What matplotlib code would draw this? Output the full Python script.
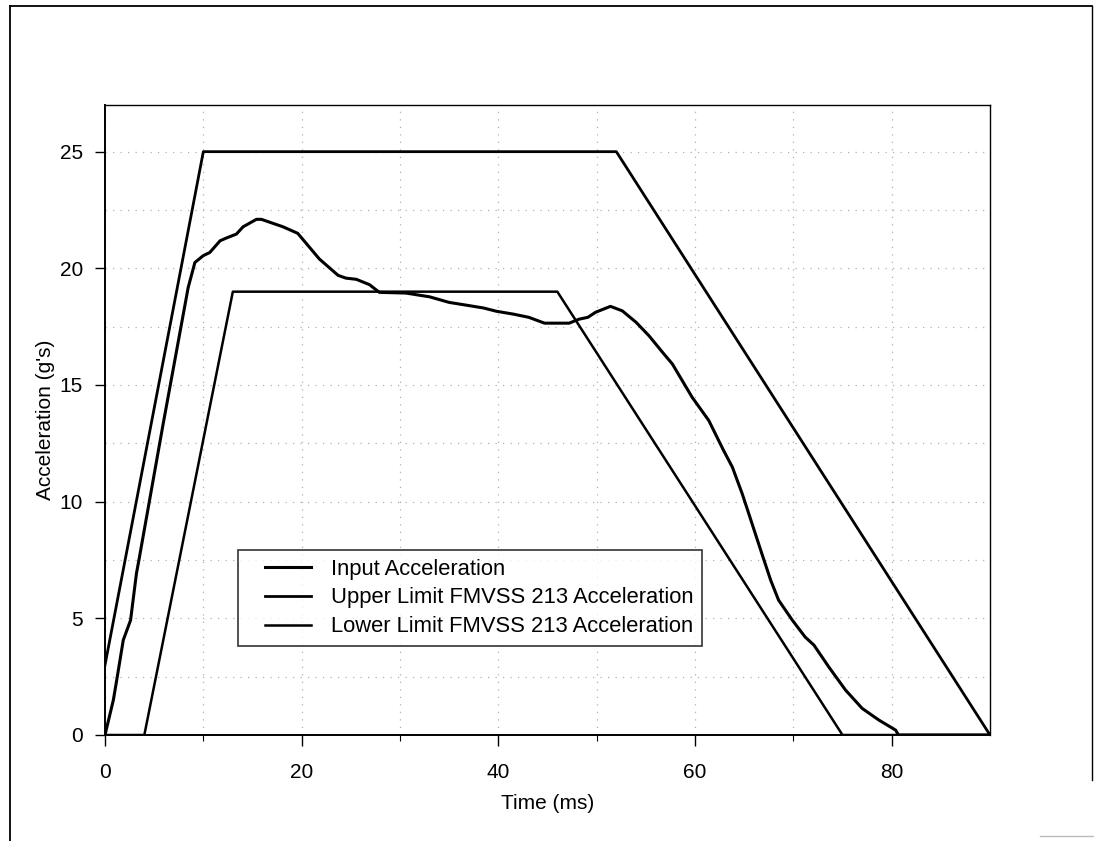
import matplotlib
matplotlib.use("Agg")
import matplotlib.pyplot as plt
from matplotlib.lines import Line2D
from matplotlib.legend_handler import HandlerLine2D
from matplotlib.ticker import MultipleLocator, FixedLocator

plt.rcParams['font.family'] = ['Liberation Sans', 'DejaVu Sans']

# Input acceleration (time ms, g)
input_t = [0, 0.85, 1.19, 1.86, 2.6, 3.2, 3.45, 5.9, 8.46, 9.14, 9.98, 10.66, 11.7,
           12.35, 13.37, 14.04, 15.4, 15.9, 18.1, 19.6, 21.8, 23.7, 24.5, 25.55, 26.9,
           27.9, 30.6, 33.0, 35.0, 37.06, 38.5, 39.8, 41.5, 43.1, 44.7, 47.2, 48.2, 49.1,
           49.9, 51.4, 52.6, 54.0, 55.3, 56.7, 57.7, 59.7, 61.4, 62.9, 63.8, 64.8, 65.8,
           66.8, 67.7, 68.5, 69.9, 71.2, 72.1, 73.6, 75.3, 77.0, 78.7, 80.4, 80.7, 90]
input_a = [0, 1.5, 2.35, 4.07, 4.92, 6.93, 7.5, 13.3, 19.18, 20.25, 20.54, 20.68, 21.18,
           21.3, 21.47, 21.78, 22.1, 22.1, 21.78, 21.5, 20.4, 19.7, 19.58, 19.53, 19.3,
           18.97, 18.94, 18.78, 18.54, 18.4, 18.3, 18.16, 18.04, 17.9, 17.65, 17.65, 17.82, 17.9,
           18.12, 18.37, 18.18, 17.69, 17.12, 16.4, 15.9, 14.48, 13.48, 12.2, 11.48, 10.34, 9.06,
           7.77, 6.63, 5.78, 4.92, 4.2, 3.85, 2.92, 1.93, 1.14, 0.64, 0.21, 0, 0]

# FMVSS 213 corridor
upper_t = [0, 10, 52, 90]
upper_a = [3, 25, 25, 0]
lower_t = [0, 4, 13, 46, 75, 90]
lower_a = [0, 0, 19, 19, 0, 0]

labels = ["Input Acceleration",
          "Upper Limit FMVSS 213 Acceleration",
          "Lower Limit FMVSS 213 Acceleration"]
x_ticks = [0, 20, 40, 60, 80]
y_ticks = [0, 5, 10, 15, 20, 25]

W, H = 1094, 841
fig = plt.figure(figsize=(W / 100, H / 100), dpi=100)
fig.patch.set_facecolor('white')

# outer frame (scanned page border)
fig.add_artist(Line2D([10 / W, 10 / W], [0, 1 - 6 / H], transform=fig.transFigure,
                      color='black', lw=1.3))
fig.add_artist(Line2D([10 / W, 1092 / W], [1 - 6 / H, 1 - 6 / H], transform=fig.transFigure,
                      color='black', lw=1.3))
fig.add_artist(Line2D([1092 / W, 1092 / W], [1 - 6 / H, 1 - 780 / H], transform=fig.transFigure,
                      color='black', lw=1.0))
fig.add_artist(Line2D([1040 / W, 1094 / W], [1 - 836 / H, 1 - 836 / H], transform=fig.transFigure,
                      color='#bbbbbb', lw=1.0))

left, right, bottom, top = 105 / W, 990 / W, 1 - 735 / H, 1 - 105 / H
ax = fig.add_axes([left, bottom, right - left, top - bottom])

ax.plot(input_t, input_a, color='black', lw=2.2, label=labels[0], solid_joinstyle='round')
ax.plot(upper_t, upper_a, color='black', lw=2.0, label=labels[1])
ax.plot(lower_t, lower_a, color='black', lw=1.8, label=labels[2])

ax.set_xlim(0, 90)
ax.set_ylim(0, 27)
ax.xaxis.set_major_locator(FixedLocator(x_ticks))
ax.xaxis.set_minor_locator(FixedLocator([10, 30, 50, 70]))
ax.yaxis.set_major_locator(FixedLocator(y_ticks))
ax.yaxis.set_minor_locator(MultipleLocator(2.5))

ax.grid(True, which='both', color='#b0b0b0', linestyle=(0, (1, 5)), linewidth=0.9)
ax.tick_params(axis='x', which='major', length=8, width=1.0, pad=12, labelsize=15, direction='out')
ax.tick_params(axis='x', which='minor', length=4, width=0.8, direction='out')
ax.tick_params(axis='y', which='major', length=7, width=1.0, pad=9, labelsize=15, direction='out')
ax.tick_params(axis='y', which='minor', length=0)
for s in ax.spines.values():
    s.set_color('black')
    s.set_linewidth(1.0)
ax.spines['left'].set_linewidth(1.4)
ax.spines['bottom'].set_linewidth(1.4)

ax.set_xlabel("Time (ms)", fontsize=15, labelpad=9)
ax.set_ylabel("Acceleration (g's)", fontsize=15, labelpad=3)

leg = ax.legend(loc='center', bbox_to_anchor=((470 - 105) / 885, (735 - 598) / 630),
                fontsize=15.8, frameon=True, fancybox=False, edgecolor='black',
                borderpad=0.4, labelspacing=0.35, handlelength=2.93, handletextpad=0.9,
                borderaxespad=0, handler_map={Line2D: HandlerLine2D(xpad=0.83)})
leg.get_frame().set_linewidth(1.2)

fig.savefig("out.png", dpi=100, facecolor='white')
